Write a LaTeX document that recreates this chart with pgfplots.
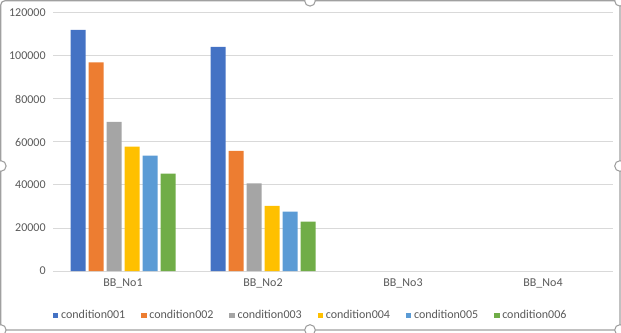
\documentclass[border=0pt]{standalone}
\usepackage{pgfplots}
\pgfplotsset{compat=1.18}
\usepackage{fontspec}
\setmainfont{Carlito}
\definecolor{c1}{HTML}{4472C4}
\definecolor{c2}{HTML}{ED7D31}
\definecolor{c3}{HTML}{A5A5A5}
\definecolor{c4}{HTML}{FFC000}
\definecolor{c5}{HTML}{5B9BD5}
\definecolor{c6}{HTML}{70AD47}
\definecolor{txt}{HTML}{595959}
\definecolor{gridc}{HTML}{D9D9D9}
\definecolor{framec}{HTML}{A0A0A0}
\begin{document}
\begin{tikzpicture}
\useasboundingbox (0,0) rectangle (465.75pt,249pt);
\draw[framec, line width=0.9pt, rounded corners=3pt] (0.6pt,1.5pt) rectangle (465pt,248.4pt);
\begin{axis}[
  at={(39.75pt,45.75pt)}, anchor=south west,
  scale only axis, width=420pt, height=193.5pt,
  xmin=-0.5, xmax=3.5, ymin=0, ymax=120000,
  ytick={0,20000,...,120000},
  xtick={0,1,2,3},
  xticklabels={BB\_No1,BB\_No2,BB\_No3,BB\_No4},
  scaled y ticks=false,
  /pgf/number format/assume math mode=true,
  yticklabel={\pgfmathprintnumber[fixed,precision=0,set thousands separator={}]{\tick}},
  major tick length=0pt,
  axis line style={draw=none},
  ymajorgrids, grid style={draw=gridc, line width=0.75pt},
  ticklabel style={font=\fontsize{9}{11}\selectfont, text=txt},
  yticklabel style={xshift=-2pt},
  xticklabel style={yshift=-2pt},
  ybar=2.25pt, bar width=11.25pt,
  legend columns=6,
  legend style={at={(193.5pt,-33.5pt)}, anchor=center, draw=none, fill=none,
    font=\fontsize{9}{11}\selectfont, text=txt,
    /tikz/every even column/.append style={column sep=9.8pt}},
  legend image code/.code={\fill[#1] (0pt,-2.1pt) rectangle (4.2pt,2.1pt);},
]
\addplot[fill=c1, draw=none] coordinates {(0,112200) (1,104300)};
\addplot[fill=c2, draw=none] coordinates {(0,97000) (1,55900)};
\addplot[fill=c3, draw=none] coordinates {(0,69400) (1,40700)};
\addplot[fill=c4, draw=none] coordinates {(0,57900) (1,30300)};
\addplot[fill=c5, draw=none] coordinates {(0,53700) (1,27600)};
\addplot[fill=c6, draw=none] coordinates {(0,45300) (1,23000)};
\legend{condition001,condition002,condition003,condition004,condition005,condition006}
\end{axis}
\foreach \p in {(232.5pt,248.4pt),(465pt,248.4pt),(0.6pt,124.5pt),(465pt,124.5pt),(232.5pt,1.5pt),(0.6pt,1.5pt),(465pt,1.5pt)}
  \draw[framec, fill=white, line width=0.8pt] \p circle (4pt);
\end{tikzpicture}
\end{document}
